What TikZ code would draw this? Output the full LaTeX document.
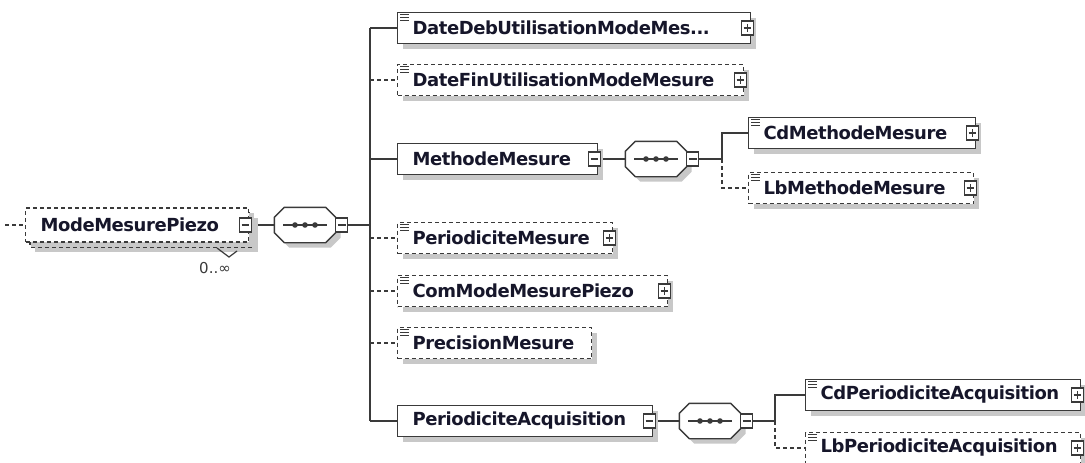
\documentclass[tikz,border=0pt]{standalone}
\usepackage{fontspec}
\setmainfont{DejaVu Sans}
\newfontfamily\elemfont{DejaVu Sans}[LetterSpace=-2.5]
\usetikzlibrary{shadows,calc}
\definecolor{edge}{HTML}{3A3A3A}
\definecolor{txt}{HTML}{16162A}
\definecolor{shade}{HTML}{C8C8C8}
\pgfdeclarelayer{background}
\pgfsetlayers{background,main}
\newcommand\octagon[1]{%
  \path[seqline] ([xshift=10pt]#1.north west) -- ([xshift=-10pt]#1.north east) -- ([yshift=-10pt]#1.north east) -- ([yshift=10pt]#1.south east) -- ([xshift=-10pt]#1.south east) -- ([xshift=10pt]#1.south west) -- ([yshift=10pt]#1.south west) -- ([yshift=-10pt]#1.north west) -- cycle;
  \draw[line] ([xshift=-22pt]#1.center) -- ([xshift=22pt]#1.center);
  \fill[edge] ([xshift=-10pt]#1.center) circle (2.8pt) (#1.center) circle (2.8pt) ([xshift=10pt]#1.center) circle (2.8pt);}
\newcommand\simpleicon[1]{%
  \draw[draw=edge, line width=0.9pt] ([xshift=3pt,yshift=-3pt]#1.north west) -- ++(9pt,0) ([xshift=3pt,yshift=-5.8pt]#1.north west) -- ++(9pt,0) ([xshift=3pt,yshift=-8.6pt]#1.north west) -- ++(9pt,0);}
\begin{document}
\begin{tikzpicture}[x=1pt,y=-1pt,
  line/.style={draw=edge, line width=1.4pt},
  dline/.style={draw=edge, line width=1.4pt, dash pattern=on 4pt off 3pt},
  shad/.style={drop shadow={shadow xshift=5pt, shadow yshift=-5pt, fill=shade, opacity=1}},
  elem/.style={rectangle, draw=edge, line width=1.4pt, fill=white, minimum height=31pt, inner xsep=15pt, inner ysep=0pt, align=left, anchor=west, font=\fontsize{18}{20}\elemfont\bfseries, text=txt, shad},
  optelem/.style={elem, dash pattern=on 4pt off 3pt},
  seqbox/.style={rectangle, draw=none, minimum width=61pt, minimum height=35pt, inner sep=0pt},
  seqline/.style={draw=edge, line width=1.4pt, fill=white, shad},
  pm/.style={rectangle, draw=edge, line width=1.1pt, fill=white, minimum width=12pt, minimum height=14pt, inner sep=0pt},
  plusbox/.style={pm, path picture={\draw[edge, line width=1.1pt] ([xshift=-3.8pt]path picture bounding box.center) -- ([xshift=3.8pt]path picture bounding box.center) ([yshift=-3.8pt]path picture bounding box.center) -- ([yshift=3.8pt]path picture bounding box.center);}},
  minusbox/.style={pm, path picture={\draw[edge, line width=1.1pt] ([xshift=-3.8pt]path picture bounding box.center) -- ([xshift=3.8pt]path picture bounding box.center);}},
  card/.style={font=\fontsize{15}{17}\selectfont, text=edge, inner sep=0pt}
]
\useasboundingbox (0,0) rectangle (1085,463);
\clip (0,0) rectangle (1085,463);

% root (repeated: stacked box behind)
\path[dline, fill=white, shad] (30,213) rectangle (253,247);
\node[optelem, text width=193pt, minimum height=34pt] (root) at (25,225) {ModeMesurePiezo};
\node[minusbox] (m0) at ([xshift=-4pt]root.east) {};
\draw[line, line width=1.2pt] (217,248) -- (229,257) -- (237,251);
\node[card] (c0) at (215,268) {0..∞};
\coordinate (in) at (5,225);

% top-level sequence
\node[seqbox] (s0) at (305,225) {};
\octagon{s0}
\node[minusbox] (sm0) at ([xshift=6pt]s0.east) {};
\coordinate (bus) at (370,225);

% children
\node[elem, text width=323pt] (e1) at (397,28) {DateDebUtilisationModeMes...};
\node[plusbox] (p1) at ([xshift=-4pt]e1.east) {};
\simpleicon{e1}
\node[optelem, text width=316pt] (e2) at (397,80) {DateFinUtilisationModeMesure};
\node[plusbox] (p2) at ([xshift=-4pt]e2.east) {};
\simpleicon{e2}
\node[elem, text width=170pt] (e3) at (397,159) {MethodeMesure};
\node[minusbox] (m3) at ([xshift=-4pt]e3.east) {};
\node[optelem, text width=185pt] (e4) at (397,238) {PeriodiciteMesure};
\node[plusbox] (p4) at ([xshift=-4pt]e4.east) {};
\simpleicon{e4}
\node[optelem, text width=240pt] (e5) at (397,291) {ComModeMesurePiezo};
\node[plusbox] (p5) at ([xshift=-4pt]e5.east) {};
\simpleicon{e5}
\node[optelem, text width=164pt] (e6) at (397,343) {PrecisionMesure};
\simpleicon{e6}
\node[elem, text width=225pt] (e7) at (397,421) {PeriodiciteAcquisition};
\node[minusbox] (m7) at ([xshift=-4pt]e7.east) {};

% MethodeMesure sequence
\node[seqbox] (s1) at (656,159) {};
\octagon{s1}
\node[minusbox] (sm1) at ([xshift=6pt]s1.east) {};
\coordinate (bus1) at (722,159);
\node[elem, text width=197pt] (cd1) at (748,133) {CdMethodeMesure};
\node[plusbox] (pc1) at ([xshift=-4pt]cd1.east) {};
\simpleicon{cd1}
\node[optelem, text width=195pt] (lb1) at (748,188) {LbMethodeMesure};
\node[plusbox] (pl1) at ([xshift=-4pt]lb1.east) {};
\simpleicon{lb1}

% PeriodiciteAcquisition sequence
\node[seqbox] (s2) at (710,421) {};
\octagon{s2}
\node[minusbox] (sm2) at ([xshift=6pt]s2.east) {};
\coordinate (bus2) at (775,421);
\node[elem, text width=245pt] (cd2) at (805,395) {CdPeriodiciteAcquisition};
\node[plusbox] (pc2) at ([xshift=-4pt]cd2.east) {};
\simpleicon{cd2}
\node[optelem, text width=245pt] (lb2) at (805,448) {LbPeriodiciteAcquisition};
\node[plusbox] (pl2) at ([xshift=-4pt]lb2.east) {};
\simpleicon{lb2}

\begin{pgfonlayer}{background}
\draw[dline] (in) -- (root.west);
\draw[line] (m0.east) -- (s0.west);
\draw[line] (sm0.east) -- (bus);
\draw[line] (bus |- e1.west) -- (bus |- e7.west);
\draw[line] (bus |- e1.west) -- (e1.west);
\draw[dline] (bus |- e2.west) -- (e2.west);
\draw[line] (bus |- e3.west) -- (e3.west);
\draw[dline] (bus |- e4.west) -- (e4.west);
\draw[dline] (bus |- e5.west) -- (e5.west);
\draw[dline] (bus |- e6.west) -- (e6.west);
\draw[line] (bus |- e7.west) -- (e7.west);
\draw[line] (m3.east) -- (s1.west);
\draw[line] (sm1.east) -- (bus1) |- (cd1.west);
\draw[dline] (bus1) |- (lb1.west);
\draw[line] (m7.east) -- (s2.west);
\draw[line] (sm2.east) -- (bus2) |- (cd2.west);
\draw[dline] (bus2) |- (lb2.west);
\end{pgfonlayer}
\end{tikzpicture}
\end{document}
